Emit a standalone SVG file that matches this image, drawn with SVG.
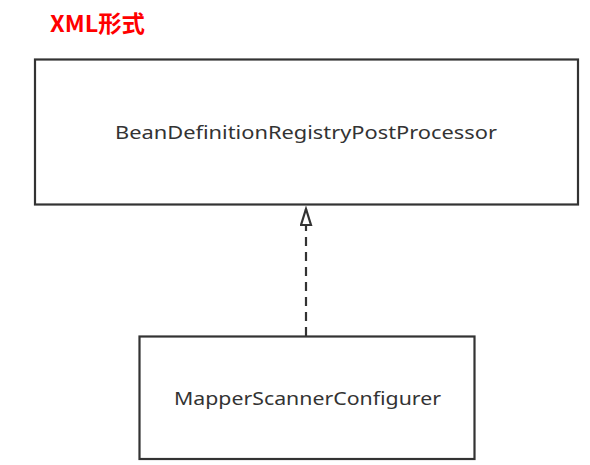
<svg xmlns="http://www.w3.org/2000/svg" width="590" height="465" viewBox="0 0 590 465">
<style>
.box{fill:#fff;stroke:#333;stroke-width:2.2}
.lbl{font-family:"Noto Sans","Open Sans",sans-serif;font-size:18px;fill:#333;text-anchor:middle}
.title{font-family:"Noto Sans CJK SC","Noto Sans",sans-serif;font-size:23px;font-weight:bold;fill:#f00}
.conn{stroke:#333;stroke-width:2.2;fill:none;stroke-dasharray:9,6}
</style>
<defs>
<marker id="tri" markerWidth="20" markerHeight="16" refX="17" refY="6" orient="auto" markerUnits="userSpaceOnUse">
<path d="M1,1 L17,6 L1,11 Z" fill="#fff" stroke="#333" stroke-width="2.2"/>
</marker>
</defs>
<rect width="590" height="465" fill="#fff"/>
<text class="title" x="50" y="32" textLength="95" lengthAdjust="spacingAndGlyphs">XML形式</text>
<g id="node-registry">
<rect class="box" x="35" y="59.5" width="543" height="145"/>
<text class="lbl" x="306" y="139" textLength="382" lengthAdjust="spacingAndGlyphs">BeanDefinitionRegistryPostProcessor</text>
</g>
<g id="node-mapper">
<rect class="box" x="139.5" y="336.5" width="335" height="122.5"/>
<text class="lbl" x="307.5" y="405" textLength="267" lengthAdjust="spacingAndGlyphs">MapperScannerConfigurer</text>
</g>
<g id="connectors">
<path class="conn" d="M306,336 L306,209" marker-end="url(#tri)"/>
</g>
</svg>
